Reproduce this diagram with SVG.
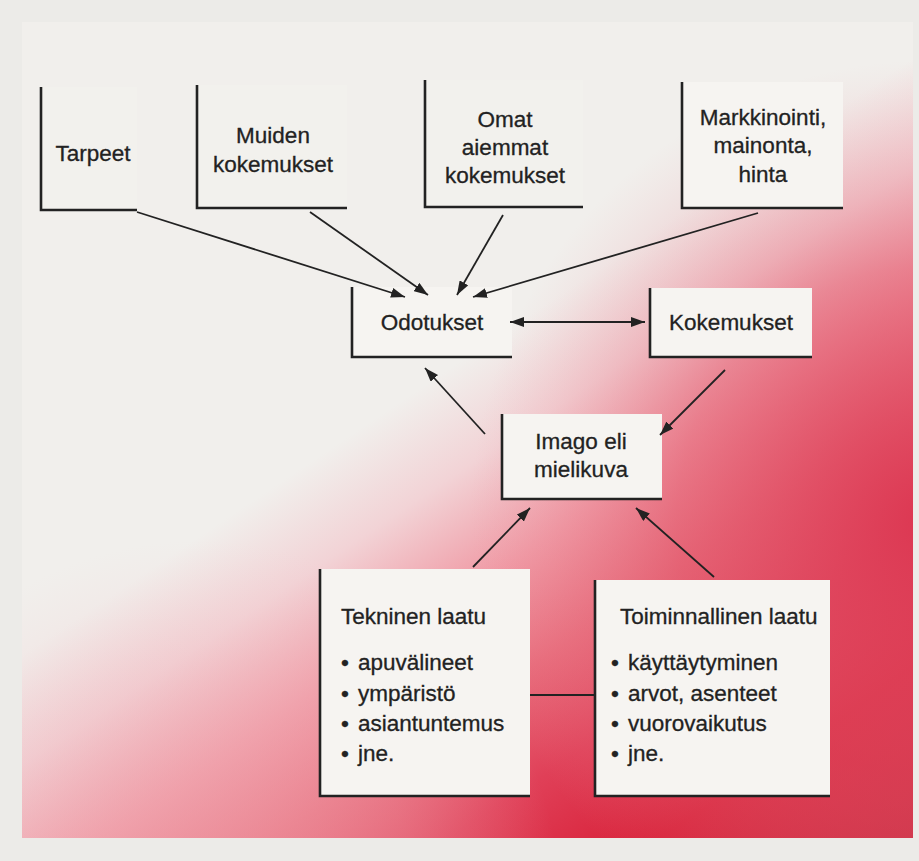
<svg xmlns="http://www.w3.org/2000/svg" width="919" height="861" viewBox="0 0 919 861">
<defs>
<linearGradient id="bg" gradientUnits="userSpaceOnUse" x1="440" y1="375" x2="802" y2="915">
<stop offset="0" stop-color="#f1efec"/>
<stop offset="0.14" stop-color="#f2d3d6"/>
<stop offset="0.3" stop-color="#f09aa5"/>
<stop offset="0.45" stop-color="#e86a7a"/>
<stop offset="0.6" stop-color="#e04058"/>
<stop offset="0.78" stop-color="#d82038"/>
<stop offset="1" stop-color="#c81e35"/>
</linearGradient>
<radialGradient id="ov" gradientUnits="userSpaceOnUse" cx="930" cy="520" r="460">
<stop offset="0" stop-color="#dc3651" stop-opacity="0.95"/>
<stop offset="0.55" stop-color="#e25a6e" stop-opacity="0.5"/>
<stop offset="1" stop-color="#eba0aa" stop-opacity="0"/>
</radialGradient>
<radialGradient id="bot" gradientUnits="userSpaceOnUse" cx="200" cy="900" r="360">
<stop offset="0" stop-color="#ee9fa9" stop-opacity="0.6"/>
<stop offset="0.6" stop-color="#f0b4bc" stop-opacity="0.3"/>
<stop offset="1" stop-color="#f2c8cc" stop-opacity="0"/>
</radialGradient>
<marker id="ah" viewBox="0 0 14 10" refX="14" refY="5" markerWidth="14" markerHeight="10" markerUnits="userSpaceOnUse" orient="auto-start-reverse">
<path d="M0,0 L14,5 L0,10 z" fill="#222"/>
</marker>
</defs>
<style>
text{font-family:"Liberation Sans",Arial,sans-serif;font-size:22.5px;fill:#222;stroke:#222;stroke-width:0.3}
.c{text-anchor:middle}
.box{fill:#f6f4f1;stroke:none}
.edge{fill:none;stroke:#222;stroke-width:2.6}
.conn line{stroke:#222;stroke-width:1.8;fill:none}
.arr{marker-end:url(#ah)}
</style>
<rect x="0" y="0" width="919" height="861" fill="#ecebe8"/>
<rect x="22" y="22" width="891" height="816" fill="url(#bg)"/>
<rect x="22" y="22" width="891" height="816" fill="url(#ov)"/>
<rect x="22" y="22" width="891" height="816" fill="url(#bot)"/>

<g id="tarpeet">
<rect class="box" x="41" y="87" width="96" height="123" fill-opacity="0.4"/>
<path class="edge" d="M41,87 V210 H137"/>
<text class="c" x="93" y="161">Tarpeet</text>
</g>
<g id="muiden">
<rect class="box" x="197" y="85" width="150" height="123" fill-opacity="0.4"/>
<path class="edge" d="M197,85 V208 H347"/>
<text class="c" x="273" y="143">Muiden</text>
<text class="c" x="273" y="172">kokemukset</text>
</g>
<g id="omat">
<rect class="box" x="425" y="80" width="158" height="127" fill-opacity="0.4"/>
<path class="edge" d="M425,80 V207 H583"/>
<text class="c" x="505" y="127">Omat</text>
<text class="c" x="505" y="155">aiemmat</text>
<text class="c" x="505" y="183">kokemukset</text>
</g>
<g id="markkinointi">
<rect class="box" x="682" y="82" width="161" height="126"/>
<path class="edge" d="M682,82 V208 H843"/>
<text class="c" x="763" y="125">Markkinointi,</text>
<text class="c" x="763" y="153">mainonta,</text>
<text class="c" x="763" y="182">hinta</text>
</g>
<g id="odotukset">
<rect class="box" x="352" y="287" width="160" height="70"/>
<path class="edge" d="M352,287 V357 H512"/>
<text class="c" x="432" y="330">Odotukset</text>
</g>
<g id="kokemukset">
<rect class="box" x="650" y="288" width="162" height="69"/>
<path class="edge" d="M650,288 V357 H812"/>
<text class="c" x="731" y="330">Kokemukset</text>
</g>
<g id="imago">
<rect class="box" x="502" y="414" width="160" height="85"/>
<path class="edge" d="M502,414 V499 H662"/>
<text class="c" x="581" y="449">Imago eli</text>
<text class="c" x="581" y="477">mielikuva</text>
</g>
<g id="tekninen">
<rect class="box" x="320" y="569" width="210" height="227"/>
<path class="edge" d="M320,569 V796 H530"/>
<text x="341" y="624">Tekninen laatu</text>
<text x="341" y="670">•<tspan x="358">apuvälineet</tspan></text>
<text x="341" y="701">•<tspan x="358">ympäristö</tspan></text>
<text x="341" y="731">•<tspan x="358">asiantuntemus</tspan></text>
<text x="341" y="761">•<tspan x="358">jne.</tspan></text>
</g>
<g id="toiminnallinen">
<rect class="box" x="595" y="580" width="235" height="216"/>
<path class="edge" d="M595,580 V796 H830"/>
<text x="620" y="624">Toiminnallinen laatu</text>
<text x="611" y="670">•<tspan x="628">käyttäytyminen</tspan></text>
<text x="611" y="701">•<tspan x="628">arvot, asenteet</tspan></text>
<text x="611" y="731">•<tspan x="628">vuorovaikutus</tspan></text>
<text x="611" y="761">•<tspan x="628">jne.</tspan></text>
</g>

<g id="connectors" class="conn">
<line class="arr" x1="137" y1="212" x2="405" y2="297"/>
<line class="arr" x1="310" y1="212" x2="428" y2="295"/>
<line class="arr" x1="503" y1="215" x2="457" y2="295"/>
<line class="arr" x1="758" y1="213" x2="473" y2="297"/>
<line class="arr" x1="510" y1="322" x2="645" y2="322" marker-start="url(#ah)"/>
<line class="arr" x1="485" y1="434" x2="425" y2="368"/>
<line class="arr" x1="725" y1="370" x2="660" y2="435"/>
<line class="arr" x1="473" y1="567" x2="530" y2="508"/>
<line class="arr" x1="714" y1="577" x2="636" y2="508"/>
<line x1="530" y1="695" x2="595" y2="695"/>
</g>
</svg>
